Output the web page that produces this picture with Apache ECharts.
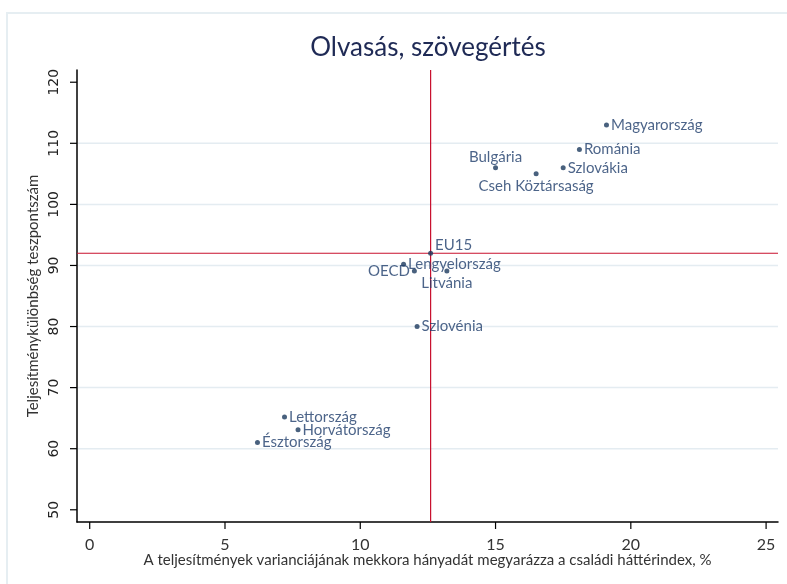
<!DOCTYPE html>
<html>
<head>
<meta charset="utf-8">
<script src="https://cdn.jsdelivr.net/npm/echarts@6/dist/echarts.min.js"></script>
<style>
  html, body { margin: 0; padding: 0; background: #fff; }
  #chart { width: 787px; height: 584px; }
</style>
</head>
<body>
<div id="chart"></div>
<script>
  // országok és értékek
  const countries = ['Magyarország', 'Románia', 'Szlovákia', 'Bulgária', 'Cseh Köztársaság', 'EU15',
    'Lengyelország', 'OECD', 'Litvánia', 'Szlovénia', 'Lettország', 'Horvátország', 'Észtország'];
  const xValues = [19.1, 18.1, 17.5, 15.0, 16.5, 12.6, 11.6, 12.0, 13.2, 12.1, 7.2, 7.7, 6.2];
  const yValues = [113, 109, 106, 106, 105, 92, 90.2, 89.1, 89.1, 80, 65.2, 63.1, 61];
  const labelSide = ['right', 'right', 'right', 'top', 'bottom', 'right',
    'right', 'left', 'bottom', 'right', 'right', 'right', 'right'];

  const refX = 12.6;
  const refY = 92;
  const xTicks = [0, 5, 10, 15, 20, 25];
  const yTicks = [50, 60, 70, 80, 90, 100, 110, 120];

  const X_MIN = -0.47, X_MAX = 25.44, Y_MIN = 48, Y_MAX = 122;

  const chart = echarts.init(document.getElementById('chart'));

  const points = countries.map((name, i) => {
    const label = { position: labelSide[i] };
    if (name === 'EU15') label.offset = [0, -8];
    if (name === 'Bulgária') label.offset = [0, 1];
    return { name: name, value: [xValues[i], yValues[i]], label: label };
  });

  const option = {
    backgroundColor: '#fff',
    animation: false,
    title: {
      text: 'Olvasás, szövegértés',
      left: 423,
      textAlign: 'center',
      top: 30,
      textStyle: { color: '#1f2a55', fontSize: 26, fontWeight: 'normal', fontFamily: 'Lato' }
    },
    graphic: [{
      type: 'rect',
      shape: { x: 7, y: 13, width: 820, height: 620 },
      style: { fill: 'none', stroke: '#e6eef2', lineWidth: 2 },
      silent: true
    }],
    grid: { left: 77, right: 9, top: 70, bottom: 62 },
    xAxis: {
      type: 'value',
      min: X_MIN,
      max: X_MAX,
      interval: 5,
      name: 'A teljesítmények varianciájának mekkora hányadát megyarázza a családi háttérindex, %',
      nameLocation: 'middle',
      nameGap: 31,
      nameTextStyle: { color: '#333', fontSize: 15, fontFamily: 'Lato' },
      axisLine: { onZero: false, lineStyle: { color: '#000', width: 1.5 } },
      axisTick: { show: false },
      axisLabel: { show: false },
      splitLine: { show: false }
    },
    yAxis: {
      type: 'value',
      min: Y_MIN,
      max: Y_MAX,
      interval: 10,
      name: 'Teljesítménykülönbség teszpontszám',
      nameLocation: 'middle',
      nameGap: 36,
      nameTextStyle: { color: '#333', fontSize: 15, fontFamily: 'Lato' },
      axisLine: { show: true, onZero: false, lineStyle: { color: '#000', width: 1.5 } },
      axisTick: { show: false },
      axisLabel: { show: false },
      splitLine: { show: false }
    },
    series: [
      {
        // y tengely: rácsvonal, tick és felirat
        type: 'custom',
        silent: true,
        data: yTicks.map(v => [v]),
        renderItem: (params, api) => {
          const v = api.value(0);
          const p = api.coord([X_MIN, v]);
          const q = api.coord([X_MAX, v]);
          const children = [
            { type: 'line', shape: { x1: p[0] - 7, y1: p[1], x2: p[0], y2: p[1] }, style: { stroke: '#000', lineWidth: 1.2 } },
            { type: 'text', x: p[0] - 23, y: p[1], rotation: Math.PI / 2,
              style: { text: String(v), fill: '#222', font: '14px "DejaVu Sans"', align: 'center', verticalAlign: 'middle' } }
          ];
          if (v > 50 && v < 120) {
            children.unshift({ type: 'line', shape: { x1: p[0] + 1, y1: p[1], x2: q[0], y2: p[1] }, style: { stroke: '#e4ecf1', lineWidth: 1.5 } });
          }
          return { type: 'group', children: children };
        }
      },
      {
        // x tengely: tick és felirat
        type: 'custom',
        silent: true,
        data: xTicks.map(v => [v]),
        renderItem: (params, api) => {
          const p = api.coord([api.value(0), Y_MIN]);
          return {
            type: 'group',
            children: [
              { type: 'line', shape: { x1: p[0], y1: p[1], x2: p[0], y2: p[1] + 7 }, style: { stroke: '#000', lineWidth: 1.2 } },
              { type: 'text', x: p[0], y: p[1] + 23,
                style: { text: String(api.value(0)), fill: '#333', font: '16px Lato', align: 'center', verticalAlign: 'middle' } }
            ]
          };
        }
      },
      {
        // referenciavonalak (EU15 értékei)
        type: 'custom',
        silent: true,
        data: [[refX, refY]],
        z: 3,
        renderItem: (params, api) => {
          const c = api.coord([api.value(0), api.value(1)]);
          const lo = api.coord([X_MIN, Y_MIN]);
          const hi = api.coord([X_MAX, Y_MAX]);
          const st = { stroke: '#c8102e', lineWidth: 1.2 };
          return {
            type: 'group',
            children: [
              { type: 'line', shape: { x1: c[0], y1: hi[1], x2: c[0], y2: lo[1] }, style: st },
              { type: 'line', shape: { x1: lo[0], y1: c[1], x2: hi[0], y2: c[1] }, style: st }
            ]
          };
        }
      },
      {
        type: 'scatter',
        symbol: 'circle',
        symbolSize: 5,
        itemStyle: { color: '#1b3a5e' },
        data: points,
        label: {
          show: true,
          formatter: '{b}',
          color: '#1f3d6b',
          fontSize: 15,
          fontFamily: 'Lato',
          distance: 2
        },
        z: 5
      }
    ]
  };

  chart.setOption(option);

  window.addEventListener('resize', () => {
    chart.resize();
  });
</script>
</body>
</html>
